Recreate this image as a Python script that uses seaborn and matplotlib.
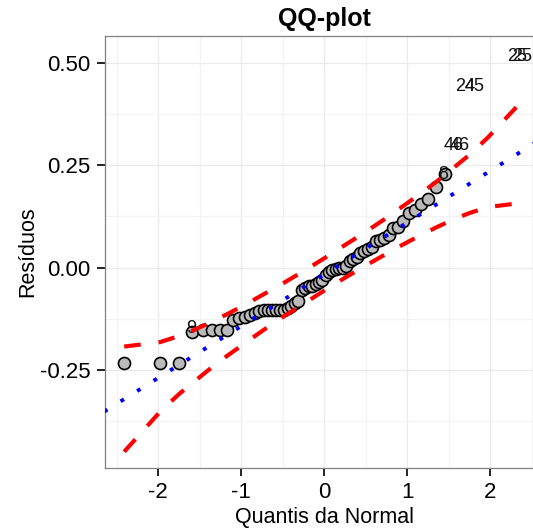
import matplotlib
matplotlib.use("Agg")
import matplotlib.pyplot as plt
import seaborn as sns
import pandas as pd

# ---- data ----
theo = [-2.408, -1.974, -1.747, -1.585, -1.457, -1.348, -1.254, -1.170, -1.093, -1.023,
        -0.956, -0.895, -0.836, -0.780, -0.726, -0.674, -0.624, -0.576, -0.529, -0.483,
        -0.438, -0.394, -0.351, -0.308, -0.266, -0.224, -0.183, -0.142, -0.101, -0.061,
        -0.020, 0.020, 0.061, 0.101, 0.142, 0.183, 0.224, 0.266, 0.308, 0.351,
        0.394, 0.438, 0.483, 0.529, 0.576, 0.624, 0.674, 0.726, 0.780, 0.836,
        0.895, 0.956, 1.023, 1.093, 1.170, 1.254, 1.348, 1.457]
resid = [-0.232, -0.232, -0.232, -0.157, -0.152, -0.152, -0.152, -0.152, -0.128, -0.124,
         -0.120, -0.116, -0.110, -0.105, -0.103, -0.103, -0.103, -0.103, -0.103, -0.103,
         -0.098, -0.093, -0.087, -0.082, -0.0545, -0.050, -0.046, -0.044, -0.041, -0.036,
         -0.030, -0.018, -0.011, -0.006, -0.003, -0.002, 0.000, 0.003, 0.015, 0.020,
         0.027, 0.035, 0.041, 0.046, 0.051, 0.064, 0.068, 0.073, 0.080, 0.096,
         0.100, 0.114, 0.133, 0.141, 0.155, 0.168, 0.196, 0.228]

label_text = ["25", "25", "24", "45", "46", "46", "8", "9"]
label_x = [2.33, 2.39, 1.70, 1.82, 1.56, 1.63, 1.44, -1.60]
label_y = [0.515, 0.515, 0.443, 0.443, 0.298, 0.298, 0.228, -0.149]

qq_line_x = [-2.65, 2.67]
qq_line_y = [-0.352, 0.321]

band_x = [-2.408, -1.974, -1.747, -1.585, -1.348, -1.170, -0.956, -0.726, -0.483, -0.266,
          -0.020, 0.020, 0.266, 0.483, 0.726, 0.956, 1.170, 1.348, 1.585, 1.747, 1.974, 2.408]
band_upper = [-0.193, -0.182, -0.167, -0.154, -0.132, -0.114, -0.091, -0.065, -0.037, -0.011,
              0.020, 0.025, 0.057, 0.085, 0.118, 0.151, 0.182, 0.209, 0.248, 0.275, 0.318, 0.412]
band_lower = [-0.450, -0.352, -0.309, -0.282, -0.243, -0.216, -0.185, -0.152, -0.119, -0.091,
              -0.059, -0.054, -0.023, 0.003, 0.031, 0.057, 0.080, 0.098, 0.120, 0.133, 0.148, 0.159]

x_ticks = [-2, -1, 0, 1, 2]
x_tick_labels = ["-2", "-1", "0", "1", "2"]
y_ticks = [-0.25, 0.0, 0.25, 0.5]
y_tick_labels = ["-0.25", "0.00", "0.25", "0.50"]
x_minor = [-2.5, -1.5, -0.5, 0.5, 1.5, 2.5]
y_minor = [-0.375, -0.125, 0.125, 0.375]

# ---- style ----
sns.set_theme(style="white")
plt.rcParams["font.family"] = ["Liberation Sans", "DejaVu Sans"]
plt.rcParams["axes.unicode_minus"] = False

fig = plt.figure(figsize=(5.33, 5.31), dpi=100)
ax = fig.add_axes([0.1961, 0.1181, 0.8265, 0.8147])

pts = pd.DataFrame({"theo": theo, "resid": resid})
sns.scatterplot(data=pts, x="theo", y="resid", ax=ax, s=75, color="#BABABA",
                edgecolor="black", linewidth=1.2, zorder=3)

for t, x, y in zip(label_text, label_x, label_y):
    ax.text(x, y, t, ha="center", va="center", fontsize=13, color="#111111", zorder=4)

line_df = pd.DataFrame({"x": qq_line_x, "y": qq_line_y})
sns.lineplot(data=line_df, x="x", y="y", ax=ax, color="#0000FF", linewidth=2.8,
             linestyle=(0, (1, 4.0)), sort=False, estimator=None, zorder=5)

band_df = pd.DataFrame({"x": band_x, "up": band_upper, "lo": band_lower})
sns.lineplot(data=band_df, x="x", y="up", ax=ax, color="#FF0000", linewidth=3.0,
             linestyle=(0, (4, 4.3)), sort=False, estimator=None, zorder=5)
sns.lineplot(data=band_df, x="x", y="lo", ax=ax, color="#FF0000", linewidth=3.0,
             linestyle=(0, (4, 4.3)), sort=False, estimator=None, zorder=5)

ax.set_xlim(-2.645, 2.663)
ax.set_ylim(-0.4905, 0.567)

ax.set_xticks(x_ticks)
ax.set_xticklabels(x_tick_labels)
ax.set_yticks(y_ticks)
ax.set_yticklabels(y_tick_labels)
ax.set_xticks(x_minor, minor=True)
ax.set_yticks(y_minor, minor=True)

ax.grid(which="major", color="#EBEBEB", linewidth=1.0, zorder=0)
ax.grid(which="minor", color="#F3F3F3", linewidth=0.9, zorder=0)
ax.set_axisbelow(True)

ax.tick_params(axis="both", which="major", direction="out", length=6, width=1.4,
               color="#222222", labelsize=16, labelcolor="black", pad=4,
               bottom=True, left=True)
ax.tick_params(axis="both", which="minor", length=0)

for sp in ax.spines.values():
    sp.set_color("#808080")
    sp.set_linewidth(0.9)

ax.set_title("QQ-plot", fontsize=18, fontweight="bold", pad=7, color="black")
ax.set_xlabel("Quantis da Normal", fontsize=15.5, labelpad=3, color="black")
ax.set_ylabel("Resíduos", fontsize=15.5, labelpad=1, color="black")

fig.savefig("out.png", dpi=100)
